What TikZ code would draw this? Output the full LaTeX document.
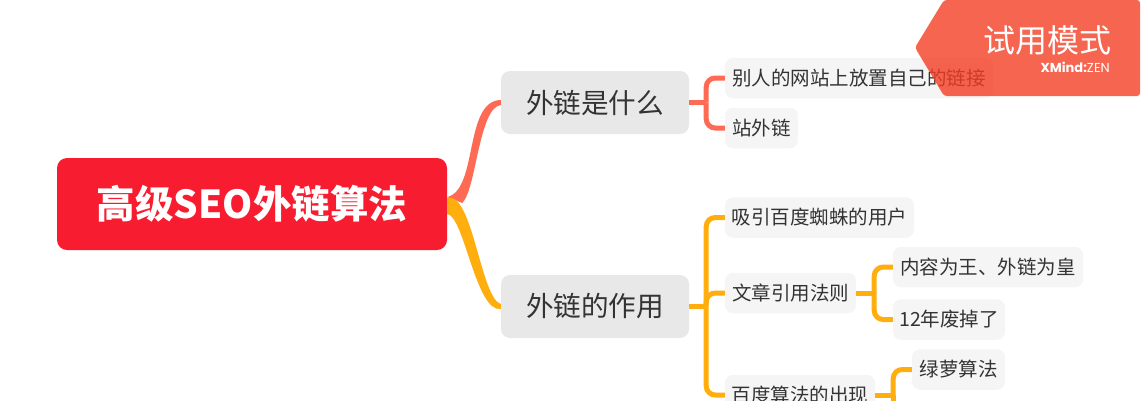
\documentclass[tikz,border=0pt]{standalone}
\usepackage{fontspec}
\setmainfont{Noto Sans CJK SC}
\newfontfamily\latinfont{Poppins}
\usetikzlibrary{calc}
\definecolor{rootred}{HTML}{F81C30}
\definecolor{coral}{HTML}{FF6A55}
\definecolor{amber}{HTML}{FFAE0D}
\definecolor{badge}{HTML}{F43E24}
\definecolor{inktext}{HTML}{333333}
\tikzset{
  box/.style={inner sep=0pt,align=center,text=inktext,anchor=center},
  rootbox/.style={box,fill=rootred,rounded corners=10pt,text=white,minimum width=390pt,minimum height=92pt,font=\fontsize{38.5}{39}\selectfont\bfseries},
  midbox/.style={box,fill=black!9,rounded corners=9pt,minimum width=188pt,minimum height=63pt,font=\fontsize{27.6}{28}\selectfont},
  leaf/.style={box,fill=black!4,rounded corners=8pt,minimum height=40.5pt,font=\fontsize{19.5}{20}\selectfont},
  link/.style={line width=5pt,rounded corners=9pt},
  cr/.style={link,draw=coral},
  am/.style={link,draw=amber}
}
\begin{document}
\begin{tikzpicture}[x=1pt,y=-1pt]
\useasboundingbox (0,0) rectangle (1141,400);
\clip (0,0) rectangle (1141,400);
% nodes
\node[rootbox] (root) at (252,204) {高级SEO外链算法};
\node[midbox] (a) at (595,102.5) {外链是什么};
\node[midbox] (b) at (595,306.5) {外链的作用};
\node[leaf,minimum width=268pt] (a1) at (859,78) {别人的网站上放置自己的链接};
\node[leaf,minimum width=73pt] (a2) at (761.5,128) {站外链};
\node[leaf,minimum width=189pt] (b1) at (819.5,217.5) {吸引百度蜘蛛的用户};
\node[leaf,minimum width=131pt] (b2) at (790.5,293) {文章引用法则};
\node[leaf,minimum width=150pt] (b3) at (800,395) {百度算法的出现};
\node[leaf,minimum width=190pt] (c1) at (988,267) {内容为王、外链为皇};
\node[leaf,minimum width=112pt] (c2) at (949,319.5) {12年废掉了};
\node[leaf,minimum width=93pt] (d1) at (958.5,369.5) {绿萝算法};
% trunks
\coordinate (ta) at ($(a.east)+(17,0)$);
\coordinate (tb) at ($(b.east)+(17,0)$);
\coordinate (tc) at ($(b2.east)+(18,0)$);
\coordinate (td) at ($(b3.east)+(18,0)$);
\coordinate (dn) at ($(td)+(0,40)$);
% root connectors
\fill[coral] ($(root.east)+(0,-7)$)
  .. controls ($(root.east)+(31,-14)$) and ($(a.west)+(-37,-2)$) .. ($(a.west)+(0,-2.5)$)
  -- ($(a.west)+(0,2.5)$)
  .. controls ($(a.west)+(-22,5)$) and ($(root.east)+(29,-14)$) .. ($(root.east)+(15,-1)$) -- cycle;
\fill[amber] ($(root.east)+(0,-6)$)
  .. controls ($(root.east)+(25,-14)$) and ($(b.west)+(-20,-8)$) .. ($(b.west)+(0,-2.5)$)
  -- ($(b.west)+(0,2.5)$)
  .. controls ($(b.west)+(-25,6)$) and ($(root.east)+(17,12)$) .. ($(root.east)+(0,10)$) -- cycle;
% branch connectors
\draw[cr] (a.east) -- (ta);
\draw[cr] (a1.west) -| (ta);
\draw[cr] (a2.west) -| (ta);
\draw[am] (b.east) -- (tb);
\draw[am] (b1.west) -| (tb);
\draw[am] (b2.west) -| (tb);
\draw[am] (b3.west) -| (tb);
\draw[am] (b2.east) -- (tc);
\draw[am] (c1.west) -| (tc);
\draw[am] (c2.west) -| (tc);
\draw[am] (b3.east) -- (td);
\draw[am] (d1.west) -| (td);
\draw[am] (td) -- (dn);
% trial badge
\fill[badge,fill opacity=.8,rounded corners=3pt] (1140,0) -- (944,0) -- (915,47.5) -- (944,96) -- (1140,96) -- cycle;
\node[inner sep=0pt,text=white,anchor=center,font=\fontsize{32}{32}\selectfont] (trial) at (1047,40) {试用模式};
\node[inner sep=0pt,text=white,anchor=east,font=\fontsize{13}{13}\latinfont] (brand) at (1110,67.5) {\textbf{XMind:}ZEN};
\end{tikzpicture}
\end{document}
